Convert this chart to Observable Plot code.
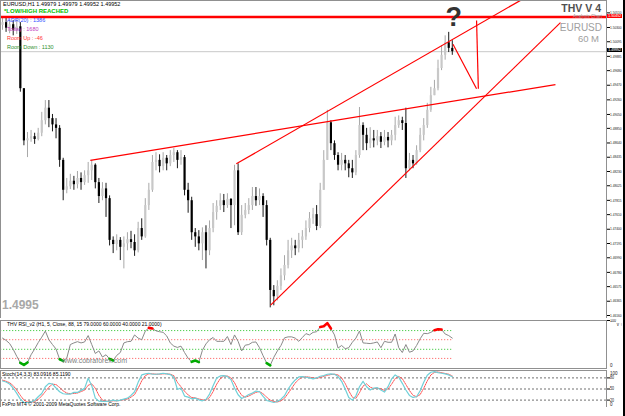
<!DOCTYPE html>
<html><head><meta charset="utf-8">
<script src="https://cdn.jsdelivr.net/npm/d3@7"></script>
<script src="https://cdn.jsdelivr.net/npm/@observablehq/plot@0.6"></script>
<style>
body{margin:0;background:#fff;font-family:"Liberation Sans",Arial,sans-serif}
#wrap{position:relative;width:625px;height:416px;overflow:hidden;background:#fff}
.t{position:absolute;white-space:nowrap;line-height:1}
</style></head><body><div id="wrap"></div>
<script>
// ---------- data ----------
const timeLabels = ["26 Oct 2009","26 Oct 23:00","27 Oct 15:00","28 Oct 07:00","28 Oct 23:00","29 Oct 15:00","30 Oct 07:00","30 Oct 23:00","2 Nov 15:00","3 Nov 07:00","3 Nov 23:00","4 Nov 15:00","5 Nov 07:00","5 Nov 23:00","6 Nov 15:00","9 Nov 07:00"];
const timeTickIndex = [0,8,16,24,32,40,48,56,64,72,80,88,96,104,112,120];
const priceTicks = ["1.50510","1.50300","1.50095","1.49885","1.49680","1.49470","1.49260","1.49050","1.48850","1.48640","1.48435","1.48230","1.48025","1.47815","1.47610","1.47400","1.47195","1.46990","1.46780","1.46575","1.46365","1.46160"];
const firstOpen = 1.5033;
const close = [1.5037,1.5029,1.5034,1.5026,1.5031,1.4942,1.4867,1.4870,1.4873,1.4869,
1.4878,1.4896,1.4914,1.4899,1.4890,1.4885,1.4839,1.4796,1.4801,1.4809,
1.4804,1.4813,1.4807,1.4817,1.4824,1.4832,1.4807,1.4787,1.4798,1.4784,
1.4724,1.4718,1.4724,1.4714,1.4719,1.4725,1.4721,1.4709,1.4741,1.4729,
1.4774,1.4796,1.4836,1.4839,1.4830,1.4842,1.4834,1.4846,1.4850,1.4839,
1.4843,1.4796,1.4781,1.4735,1.4729,1.4719,1.4735,1.4709,1.4741,1.4764,
1.4773,1.4781,1.4774,1.4783,1.4774,1.4824,1.4735,1.4760,1.4767,1.4774,
1.4787,1.4781,1.4787,1.4774,1.4724,1.4652,1.4643,1.4658,1.4673,1.4688,
1.4709,1.4716,1.4712,1.4724,1.4729,1.4741,1.4755,1.4761,1.4744,1.4796,
1.4839,1.4893,1.4863,1.4846,1.4832,1.4839,1.4834,1.4827,1.4821,1.4846,
1.4889,1.4875,1.4863,1.4870,1.4867,1.4873,1.4865,1.4872,1.4867,1.4875,
1.4889,1.4896,1.4892,1.4827,1.4839,1.4834,1.4853,1.4875,1.4889,1.4911,
1.4932,1.4942,1.4971,1.4990,1.5008,1.5000,1.49952];
const high = [1.5044,1.5043,1.5041,1.5040,1.5041,1.5037,1.4942,1.4879,1.4882,1.4878,
1.4885,1.4908,1.4925,1.4925,1.4905,1.4899,1.4889,1.4842,1.4813,1.4819,
1.4816,1.4823,1.4821,1.4824,1.4836,1.4839,1.4834,1.4813,1.4807,1.4806,
1.4788,1.4729,1.4732,1.4728,1.4729,1.4735,1.4737,1.4732,1.4750,1.4755,
1.4784,1.4806,1.4846,1.4850,1.4847,1.4850,1.4846,1.4853,1.4856,1.4853,
1.4853,1.4846,1.4806,1.4786,1.4741,1.4738,1.4742,1.4745,1.4752,1.4777,
1.4781,1.4791,1.4790,1.4791,1.4784,1.4832,1.4834,1.4774,1.4777,1.4784,
1.4800,1.4800,1.4798,1.4791,1.4781,1.4727,1.4659,1.4666,1.4683,1.4702,
1.4724,1.4727,1.4724,1.4734,1.4738,1.4752,1.4764,1.4770,1.4774,1.4806,
1.4853,1.4911,1.4896,1.4867,1.4850,1.4849,1.4846,1.4839,1.4839,1.4853,
1.4915,1.4893,1.4885,1.4886,1.4882,1.4882,1.4879,1.4882,1.4879,1.4882,
1.4901,1.4903,1.4901,1.4914,1.4849,1.4846,1.4860,1.4885,1.4899,1.4921,
1.4944,1.4954,1.4983,1.5004,1.5018,1.5023,1.5011];
const low = [1.5026,1.5023,1.5021,1.5018,1.5020,1.4937,1.4860,1.4843,1.4865,1.4862,
1.4867,1.4873,1.4890,1.4886,1.4880,1.4870,1.4829,1.4781,1.4791,1.4797,
1.4796,1.4798,1.4796,1.4803,1.4806,1.4810,1.4798,1.4777,1.4781,1.4757,
1.4716,1.4705,1.4709,1.4695,1.4683,1.4709,1.4712,1.4701,1.4706,1.4724,
1.4727,1.4767,1.4793,1.4824,1.4821,1.4824,1.4824,1.4830,1.4836,1.4827,
1.4832,1.4788,1.4763,1.4724,1.4714,1.4709,1.4695,1.4683,1.4702,1.4735,
1.4753,1.4767,1.4764,1.4770,1.4741,1.4745,1.4731,1.4731,1.4755,1.4761,
1.4767,1.4773,1.4774,1.4757,1.4716,1.4627,1.4630,1.4637,1.4652,1.4666,
1.4683,1.4698,1.4702,1.4706,1.4712,1.4724,1.4735,1.4747,1.4738,1.4741,
1.4796,1.4839,1.4853,1.4839,1.4824,1.4824,1.4824,1.4814,1.4813,1.4817,
1.4842,1.4853,1.4853,1.4856,1.4857,1.4860,1.4856,1.4860,1.4857,1.4860,
1.4867,1.4885,1.4882,1.4813,1.4824,1.4827,1.4832,1.4850,1.4867,1.4885,
1.4908,1.4932,1.4939,1.4968,1.4983,1.4994,1.4990];
const bidPrice = 1.49952;
const resistancePrice = 1.5045;
// trend lines: start bar, start price, end bar, end price
const lineBar1   = [24.6, 65.5, 75.1, 126.2, 132.8];
const linePrice1 = [1.4839, 1.4834, 1.4631, 1.5006, 1.5040];
const lineBar2   = [154.9, 145.1, 156.3, 132.8, 133.3];
const linePrice2 = [1.4948, 1.5069, 1.5037, 1.4942, 1.4942];
const rsi = [63.3,58.6,52,39.9,25.3,11.9,7.3,12.6,28.6,40.6,
53.9,65.3,78,59.9,49.9,40.6,19.3,15.9,21.5,49.9,
53.3,55.9,53.3,55.3,68.6,49.9,31.3,36.6,23.9,28.6,
19.9,16.6,27.3,33.3,53.3,55.9,56.6,69.9,63.3,59.9,
77.9,84.6,83.3,78.5,76.6,75.3,67.9,53.3,46.6,43.9,
46.6,33.3,21.3,13.9,16.6,13.3,37.9,51.3,59.9,64.6,
56.6,56.6,56.6,66.6,49.9,69.9,56.6,36.6,48.6,49.9,
54.6,55.3,43.3,26.6,11.3,6.6,23.3,36.6,47.9,63.9,
65.9,65.9,63.3,56.6,64.6,72.6,69.9,75.3,76.6,86.6,
87.9,94.6,83.3,69.9,42.6,47.9,41.3,43.3,54.6,63.3,
78,53.3,52.6,51.9,53.3,55.3,43.3,56.6,54.6,54.6,
71.9,43.3,33.3,49.9,33.9,36.6,47.9,61.9,73.3,72.6,
75.3,79.9,81.9,81.3,71.9,68.6,63.3];
const rsiLevels = [79, 60, 40, 21];
const rsiLevelColors = ["#20c020","#ff5050","#20c020","#ff5050"];
const stochMain = [71.7,69,63.5,52.6,38,22.6,13.5,13.5,14.4,19,
29,38,56.2,65.3,63.5,52.6,42.6,37.2,36.3,36.3,
40.8,40.8,46.3,51.7,79,59,25.3,17.2,16.3,16.3,
17.2,19.9,18.1,19.9,22.6,25.3,32.6,42.6,68,88,
90.8,92.6,89.9,89.9,90.8,92.6,90.8,89,81.7,49,
52.6,30.8,28.1,23.5,25.3,20.8,18.1,21.7,36.3,59,
79.9,85.3,86.2,83.5,75.3,52.6,34.4,24.4,29,35.3,
39,44.4,42.6,29.9,19,16.3,13.5,16.3,22.6,31.7,
49.9,63.5,74.4,82.6,83.5,81.7,79.9,77.2,79.9,84.4,
86.2,89.9,90.8,89.9,83.5,70.8,49.9,27.2,19.9,31.7,
56.2,70.8,56.2,47.2,52.6,53.5,47.2,41.7,56.2,77.2,
88,81.7,65.3,47.2,32.6,27.2,29,45.3,68,87.2,
95.3,97.1,94.4,92.6,90.8,88,83.1];
const stochSignal = [74,71,67,59,47,33,20,15,14,16,
22,31,43,55,63,62,54,45,39,37,
38,39,43,47,60,64,52,33,20,17,
17,18,18,19,21,23,28,35,52,72,
86,91,91,90,90,91,91,90,86,68,
56,44,34,27,26,23,21,20,27,43,
63,78,85,85,80,67,48,33,28,31,
36,41,43,37,28,20,16,15,18,25,
38,52,66,76,82,83,82,80,79,81,
84,87,89,90,88,80,65,45,28,25,
40,58,64,55,51,52,51,46,50,63,
78,84,78,62,46,33,29,35,52,72,
88,95,96,94,92,90,85.1];
const stochLevels = [80, 50, 20];

// ---------- build ----------
const FONT = "Liberation Sans, Arial, sans-serif";
const N = close.length;
const open = close.map((c, i) => i === 0 ? firstOpen : close[i - 1]);
const bars = close.map((c, i) => ({i, open: open[i], high: high[i], low: low[i], close: c, up: c >= open[i]}));
const lines = lineBar1.map((b, k) => ({x1: b, y1: linePrice1[k], x2: lineBar2[k], y2: linePrice2[k]}));
const rsiData = rsi.map((v, i) => ({i, v}));
const stochData = stochMain.map((v, i) => ({i, m: v, s: stochSignal[i]}));
const xDomain = [-0.56, 169.2];
const wrap = document.getElementById("wrap");
function place(node, top) {
  const d = document.createElement("div");
  d.style.cssText = `position:absolute;left:0;top:${top}px;line-height:0`;
  d.appendChild(node); wrap.appendChild(d); return node;
}
function txt(s, left, top, css) {
  const d = document.createElement("div");
  d.className = "t"; d.textContent = s;
  d.style.cssText += `${left < 0 ? "right:" + (-left) : "left:" + left}px;top:${top}px;${css || ""}`;
  wrap.appendChild(d); return d;
}
function squeezeAxis(svg, len) {
  svg.querySelectorAll('[aria-label="y-axis tick label"] text').forEach(t => {
    t.setAttribute("textLength", len(t.textContent));
    t.setAttribute("lengthAdjust", "spacingAndGlyphs");
  });
}
const base = {width: 625, marginLeft: 0, marginRight: 19, style: {background: "transparent", fontFamily: FONT, color: "#000"}};

const main = Plot.plot({...base, height: 318, marginTop: 0, marginBottom: 0,
  x: {domain: xDomain, axis: null},
  y: {domain: [1.46117, 1.50688], axis: null},
  marks: [
    Plot.ruleY([bidPrice], {stroke: "#c8c8c8"}),
    Plot.ruleX(bars, {x: "i", y1: "low", y2: "high", stroke: d => d.up ? "#a8a8a8" : "#1a1a1a", strokeWidth: 1}),
    Plot.ruleX(bars, {x: "i", y1: "open", y2: "close", stroke: d => d.up ? "#c8c8c8" : "#000", strokeWidth: 2.2}),
    Plot.ruleY([resistancePrice], {stroke: "#ff0000", strokeWidth: 2.5}),
    Plot.link(lines, {x1: "x1", y1: "y1", x2: "x2", y2: "y2", stroke: "#ff0000", strokeWidth: 1.2, clip: true}),
    Plot.text([{i: 126.4, p: 1.5044}], {x: "i", y: "p", text: () => "?", fontSize: 27, fontWeight: "bold", fill: "#333", lineAnchor: "middle"}),
    Plot.axisY({anchor: "right", ticks: priceTicks.map(Number), tickFormat: (d, k) => priceTicks[k], tickSize: 3, tickPadding: 0.5, fontSize: 3.8, stroke: "#000", fill: "#222"}),
    Plot.frame({stroke: "#909090"})
  ]});
squeezeAxis(main, () => 11.5);
place(main, 0);

const rsiPlot = Plot.plot({...base, height: 50, marginTop: 1, marginBottom: 1,
  x: {domain: xDomain, axis: null}, y: {domain: [0, 100], axis: null},
  marks: [
    Plot.ruleY(rsiLevels, {y: d => d, x1: () => -0.5, x2: () => N - 1, stroke: (d, k) => rsiLevelColors[k], strokeDasharray: "1,2"}),
    Plot.line(rsiData, {x: "i", y: "v", stroke: "#8a8a8a", strokeWidth: 1}),
    Plot.line(rsiData, {x: "i", y: d => d.v < 21 ? d.v : NaN, stroke: "#00aa00", strokeWidth: 2.6}),
    Plot.line(rsiData, {x: "i", y: d => d.v > 79 ? d.v : NaN, stroke: "#ff0000", strokeWidth: 2.6}),
    Plot.axisY({anchor: "right", ticks: [100], tickSize: 3, tickPadding: 0.5, fontSize: 4.5, fill: "#222"}),
    Plot.frame({stroke: "#909090"})
  ]});
squeezeAxis(rsiPlot, s => s.length * 2);
place(rsiPlot, 319);

const stochPlot = Plot.plot({...base, height: 37, marginTop: 0, marginBottom: 0,
  x: {domain: xDomain, axis: null}, y: {domain: [0, 100], axis: null},
  marks: [
    Plot.ruleY(stochLevels, {stroke: "#707070", strokeDasharray: "2,2"}),
    Plot.line(stochData, {x: "i", y: "s", stroke: "#ff5050", strokeWidth: 1, strokeDasharray: "1,1"}),
    Plot.line(stochData, {x: "i", y: "m", stroke: "#70d0d8", strokeWidth: 1.2}),
    Plot.axisY({anchor: "right", ticks: [20, 50, 80], tickSize: 3, tickPadding: 0.5, fontSize: 4.5, fill: "#222"}),
    Plot.frame({stroke: "#909090"})
  ]});
squeezeAxis(stochPlot, s => s.length * 2);
place(stochPlot, 370);

const timePlot = Plot.plot({...base, height: 9, marginTop: 0, marginBottom: 0,
  x: {domain: xDomain, axis: null}, y: {domain: [0, 1], axis: null},
  marks: [
    Plot.tickX(timeTickIndex, {x: d => d, y: () => 0.85, stroke: "#000"}),
    Plot.text(timeTickIndex, {x: d => d, y: () => 0.4, text: (d, k) => timeLabels[k], textAnchor: "start", dx: 1, fontSize: 5.2, fill: "#000"})
  ]});
place(timePlot, 407);

// ---------- screen texts ----------
txt("EURUSD,H1  1.49979 1.49979 1.49952 1.49952", 3, 2, "font-size:5.5px;color:#000");
txt("*LOW/HIGH REACHED", 4, 8, "font-size:6px;color:#00c000;font-weight:bold");
txt("ADR(20) : 1386", 7, 18, "font-size:5.5px;color:#3050ff");
txt("Today : 1680", 7, 27, "font-size:5.5px;color:#c040c0");
txt("Room Up : -46", 7, 36, "font-size:5.5px;color:#ff3030");
txt("Room Down : 1130", 7, 45, "font-size:5.5px;color:#309030");
txt("THV V 4", -24, 3, "font-size:10.5px;font-weight:bold;color:#505050");
txt("Analysis Chart", -23, 15, "font-size:4.5px;color:#909090");
txt("EURUSD", -23, 23, "font-size:10px;color:#a0a0a0");
txt("60 M", -26, 34, "font-size:9.5px;color:#a0a0a0");
txt("1.4995", 2, 299, "font-size:12px;font-weight:bold;color:#a8a8a8");
txt("THV RSI_v2 (H1, 5, Close, 88, 15 79.0000 60.0000 40.0000 21.0000)", 7, 322, "font-size:5px;color:#000");
txt("www.cobraforex.com", 62, 357, "font-size:7px;color:#808080");
txt("Stoch(14,3,3) 83.0916 85.1190", 2, 372, "font-size:5px;color:#000");
txt("FxPro MT4 \u00a9 2001-2009 MetaQuotes Software Corp.", 2, 402, "font-size:5px;color:#000");
txt("0", 610, 364, "font-size:4.5px;color:#222");
txt("100", 610, 372, "font-size:4.5px;color:#222");
txt("0", 610, 402.5, "font-size:4.5px;color:#222");

const ys = main.scale("y");
txt("1.50452", 607, ys.apply(resistancePrice) - 3, "font-size:4.2px;color:#fff;background:#ff0000;padding:0 1px;letter-spacing:-0.3px");
txt("1.49952", 607, ys.apply(bidPrice) - 3, "font-size:4.2px;color:#fff;background:#000;padding:0 1px;letter-spacing:-0.3px");
const strip = document.createElement("div");
strip.style.cssText = "position:absolute;left:623px;top:0;width:2px;height:416px;background:#000";
wrap.appendChild(strip);
</script></body></html>
